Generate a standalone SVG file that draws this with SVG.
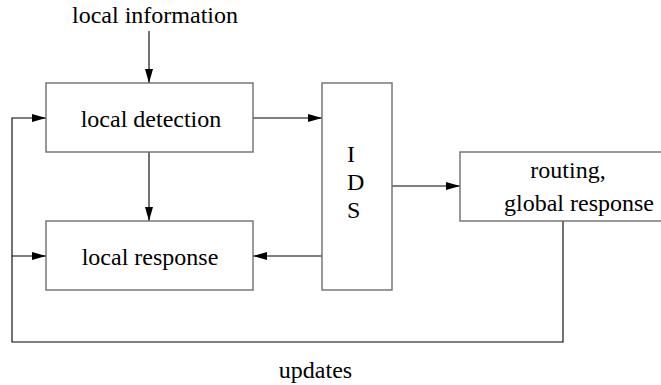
<svg xmlns="http://www.w3.org/2000/svg" width="661" height="385" viewBox="0 0 661 385">
<style>
.box{fill:#fff;stroke:#6e6e6e;stroke-width:1.4}
.ln{fill:none;stroke:#000;stroke-width:1.1}
.t{font-family:"Liberation Serif","Times New Roman",serif;font-size:24px;fill:#000}
</style>
<defs>
<marker id="ah" markerWidth="14" markerHeight="8" refX="14" refY="4" orient="auto" markerUnits="userSpaceOnUse">
<path d="M0,0 L14,4 L0,8 Z" fill="#000"/>
</marker>
</defs>
<rect width="661" height="385" fill="#fff"/>
<text class="t" x="155" y="23" text-anchor="middle">local information</text>
<g id="connectors">
<line class="ln" x1="149" y1="31" x2="149" y2="83" marker-end="url(#ah)"/>
<line class="ln" x1="253" y1="118" x2="322" y2="118" marker-end="url(#ah)"/>
<line class="ln" x1="149" y1="152" x2="149" y2="221" marker-end="url(#ah)"/>
<line class="ln" x1="322" y1="256" x2="253" y2="256" marker-end="url(#ah)"/>
<line class="ln" x1="392" y1="186" x2="460" y2="186" marker-end="url(#ah)"/>
<polyline class="ln" points="563,221 563,342 12,342 12,118 46,118" marker-end="url(#ah)" style="stroke:#000"/>
<line class="ln" x1="12" y1="256" x2="46" y2="256" marker-end="url(#ah)"/>
</g>
<g id="local-detection">
<rect class="box" x="46" y="83" width="207" height="69"/>
<text class="t" x="151" y="127" text-anchor="middle">local detection</text>
</g>
<g id="local-response">
<rect class="box" x="46" y="221" width="207" height="69"/>
<text class="t" x="150" y="265" text-anchor="middle">local response</text>
</g>
<g id="ids">
<rect class="box" x="322" y="83" width="70" height="207"/>
<text class="t" x="347" y="162">I</text>
<text class="t" x="347" y="190">D</text>
<text class="t" x="347" y="218">S</text>
</g>
<g id="routing">
<rect class="box" x="460" y="152" width="210" height="69"/>
<text class="t" x="568" y="178" text-anchor="middle">routing,</text>
<text class="t" x="504" y="211">global response</text>
</g>
<text class="t" x="315.5" y="378" text-anchor="middle">updates</text>
</svg>
